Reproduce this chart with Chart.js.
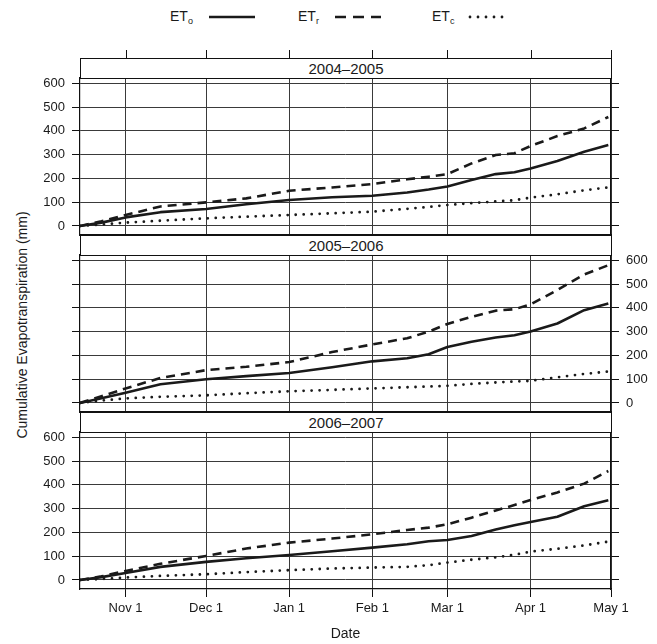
<!DOCTYPE html>
<html>
<head>
<meta charset="utf-8">
<script src="https://cdn.jsdelivr.net/npm/chart.js@4.4.0/dist/chart.umd.min.js"></script>
<style>
  body { margin: 0; background: #fff; font-family: "Liberation Sans", Arial, Helvetica, sans-serif; color: #1a1a1a; }
  #page { position: relative; width: 657px; height: 644px; overflow: hidden; background: #fff; }
  #page canvas, .strip, .key, #ytitle { position: absolute; }
  .strip { left: 80px; width: 532px; height: 21px; box-sizing: border-box; border: 1px solid #111;
           background: #fff; text-align: center; font-size: 15px; line-height: 19px; }
  .key { top: 8px; font-size: 14px; line-height: 16px; white-space: nowrap; }
  .key span { display: inline-block; vertical-align: middle; }
  .key sub { font-size: 9px; line-height: 9px; vertical-align: -3px; }
  .key svg { display: inline-block; vertical-align: middle; margin-left: 14px; }
  #ytitle { left: 22px; top: 325px; transform: translate(-50%, -50%) rotate(-90deg); font-size: 14px; white-space: nowrap; }
</style>
</head>
<body>
<div id="page">
  <div id="ytitle">Cumulative Evapotranspiration (mm)</div>
</div>
<script>
// days counted from Oct 15
var days = [0, 8, 17, 30, 47, 62, 78, 94, 109, 122, 130, 137, 146, 155, 162, 168, 178, 188, 197];

var seasons = ['2004\u20132005', '2005\u20132006', '2006\u20132007'];

// 2004-2005
var eto1 = [0, 14, 36, 58, 71, 91, 109, 121, 127, 141, 153, 166, 193, 218, 226, 242, 273, 312, 340];
var etr1 = [0, 20, 46, 82, 99, 116, 148, 162, 176, 196, 207, 218, 263, 298, 306, 336, 378, 410, 458];
var etc1 = [0, 6, 14, 22, 32, 39, 46, 53, 60, 72, 80, 88, 96, 103, 108, 119, 133, 150, 162];
// 2005-2006
var eto2 = [0, 20, 43, 79, 100, 113, 126, 150, 175, 188, 205, 235, 257, 275, 285, 300, 334, 390, 418];
var etr2 = [0, 28, 61, 105, 138, 152, 172, 214, 246, 272, 300, 332, 362, 388, 394, 414, 475, 540, 579];
var etc2 = [0, 10, 19, 26, 32, 41, 49, 55, 61, 66, 69, 72, 80, 86, 90, 93, 108, 122, 132];
// 2006-2007
var eto3 = [0, 12, 29, 55, 76, 91, 105, 121, 136, 150, 163, 168, 185, 212, 230, 244, 266, 310, 335];
var etr3 = [0, 15, 38, 68, 101, 132, 157, 174, 192, 210, 220, 234, 262, 292, 315, 336, 368, 405, 458];
var etc3 = [0, 4, 10, 17, 24, 33, 41, 48, 52, 55, 62, 73, 85, 95, 106, 119, 131, 145, 161];

var tickDays = [17, 47, 78, 109, 137, 168, 198];
var tickNames = ['Nov 1', 'Dec 1', 'Jan 1', 'Feb 1', 'Mar 1', 'Apr 1', 'May 1'];

var keySubs = ['o', 'r', 'c'];

var panels = [[eto1, etr1, etc1], [eto2, etr2, etc2], [eto3, etr3, etc3]];

// layout
var page = document.getElementById('page');
var stripTop = [58, 235, 412];
var STRIP = 20, PLOT = 157, PAD = 16;
var INK = '#1a1a1a', GRID = '#3a3a3a', EDGE = '#111';

Chart.defaults.font.family = '"Liberation Sans", Arial, Helvetica, sans-serif';
Chart.defaults.color = INK;

// line looks: solid, dashed, dotted
var looks = [
  { dash: [], cap: 'butt', width: 2.6 },
  { dash: [9, 6], cap: 'butt', width: 2.6 },
  { dash: [0, 8], cap: 'round', width: 2.8 }
];

// legend on top
var keyLeft = [170, 298, 432];
var keyLen = [50, 50, 44];
var keyDash = ['', '11 7', '0 8'];
keySubs.forEach(function (s, k) {
  var d = document.createElement('div');
  d.className = 'key';
  d.style.left = keyLeft[k] + 'px';
  d.innerHTML = '<span>ET<sub>' + s + '</sub></span>' +
    '<svg width="' + keyLen[k] + '" height="10"><line x1="2" y1="5" x2="' + (keyLen[k] - 2) + '" y2="5" stroke="' + INK +
    '" stroke-width="' + looks[k].width + '" stroke-linecap="' + looks[k].cap + '"' +
    (keyDash[k] ? ' stroke-dasharray="' + keyDash[k] + '"' : '') + '/></svg>';
  page.appendChild(d);
});

// tick marks above the first strip
var topTicks = {
  id: 'topTicks',
  afterDraw: function (chart) {
    var ctx = chart.ctx, x = chart.scales.x;
    var y0 = chart.chartArea.top - STRIP;
    ctx.save();
    ctx.strokeStyle = EDGE;
    ctx.lineWidth = 1;
    tickDays.forEach(function (d) {
      var px = Math.round(x.getPixelForValue(d)) + 0.5;
      ctx.beginPath();
      ctx.moveTo(px, y0);
      ctx.lineTo(px, y0 - 8);
      ctx.stroke();
    });
    ctx.restore();
  }
};

panels.forEach(function (series, i) {
  var last = i === 2;
  var padTop = i === 0 ? 30 : PAD;
  var plotTop = stripTop[i] + STRIP;
  var below = last ? 55 : PAD;

  var cv = document.createElement('canvas');
  cv.width = 657;
  cv.height = padTop + PLOT + below;
  cv.style.left = '0px';
  cv.style.top = (plotTop - padTop) + 'px';
  page.appendChild(cv);

  var strip = document.createElement('div');
  strip.className = 'strip';
  strip.style.top = stripTop[i] + 'px';
  strip.textContent = seasons[i];
  page.appendChild(strip);

  var datasets = series.map(function (vals, k) {
    return {
      data: days.map(function (d, j) { return { x: d, y: vals[j] }; }),
      borderColor: INK,
      borderWidth: looks[k].width,
      borderDash: looks[k].dash,
      borderCapStyle: looks[k].cap,
      borderJoinStyle: 'round',
      pointRadius: 0,
      fill: false,
      tension: 0
    };
  });

  var yTicks = function (show) {
    return { stepSize: 100, includeBounds: false, display: show, padding: 7, font: { size: 13 }, color: INK };
  };

  new Chart(cv, {
    type: 'line',
    data: { datasets: datasets },
    options: {
      responsive: false,
      animation: false,
      layout: { padding: { top: padTop, bottom: last ? 0 : PAD, left: 0, right: 0 } },
      plugins: { legend: { display: false }, tooltip: { enabled: false } },
      scales: {
        x: {
          type: 'linear', position: 'bottom', min: 0, max: 198,
          afterBuildTicks: function (s) { s.ticks = tickDays.map(function (v) { return { value: v }; }); },
          afterFit: function (s) { s.height = last ? 55 : 0; },
          grid: { color: GRID, lineWidth: 1, drawTicks: last, tickLength: 8, tickColor: EDGE },
          border: { color: EDGE, width: 1.2 },
          ticks: {
            display: last, autoSkip: false, maxRotation: 0, padding: 4,
            font: { size: 13 }, color: INK,
            callback: function (v, k) { return tickNames[k]; }
          },
          title: { display: last, text: 'Date', font: { size: 14 }, color: INK, padding: { top: 0, bottom: 1 } }
        },
        y: {
          type: 'linear', position: 'left', min: -38, max: 622,
          afterFit: function (s) { s.width = 80; },
          ticks: yTicks(i !== 1),
          grid: { color: GRID, lineWidth: 1, tickLength: 8, tickColor: EDGE },
          border: { color: EDGE, width: 1.2 }
        },
        y2: {
          type: 'linear', position: 'right', min: -38, max: 622,
          afterFit: function (s) { s.width = 46; },
          ticks: yTicks(i === 1),
          grid: { drawOnChartArea: false, tickLength: 8, tickColor: EDGE },
          border: { color: EDGE, width: 1.2 }
        }
      }
    },
    plugins: i === 0 ? [topTicks] : []
  });
});
</script>
</body>
</html>
